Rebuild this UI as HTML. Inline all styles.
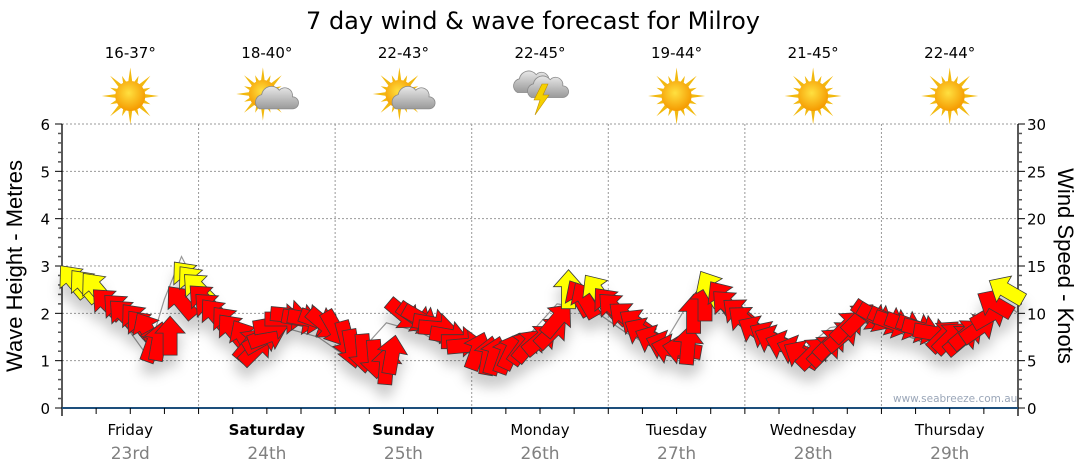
<!DOCTYPE html>
<html><head><meta charset="utf-8"><style>
html,body{margin:0;padding:0;background:#fff;}
svg{display:block;}
text{font-family:"DejaVu Sans","Liberation Sans",sans-serif;}
</style></head><body>
<svg id="chart" width="1080" height="475" viewBox="0 0 1080 475">
<defs>
<radialGradient id="sunG" cx="45%" cy="40%" r="60%"><stop offset="0" stop-color="#ffe040"/><stop offset="1" stop-color="#f59a00"/></radialGradient>
<linearGradient id="cloudG" x1="0" y1="0" x2="0" y2="1"><stop offset="0" stop-color="#e8e8e8"/><stop offset="1" stop-color="#9a9a9a"/></linearGradient>
<filter id="shadow" x="-20%" y="-20%" width="140%" height="160%"><feDropShadow dx="0" dy="12" stdDeviation="6" flood-color="#000" flood-opacity="0.2"/></filter>
</defs>
<text x="533" y="29" text-anchor="middle" font-size="24" fill="#000">7 day wind &amp; wave forecast for Milroy</text>
<g id="header"></g>
<g id="grid"></g>
<g id="axes"></g>
<text x="893" y="402" font-size="10.5" fill="#9aa6b8" font-family="Liberation Sans, sans-serif">www.seabreeze.com.au</text>
<text transform="translate(22,266) rotate(-90)" text-anchor="middle" font-size="22" style="font-family:'Liberation Sans',sans-serif">Wave Height - Metres</text>
<text transform="translate(1058,266) rotate(90)" text-anchor="middle" font-size="22" style="font-family:'Liberation Sans',sans-serif">Wind Speed - Knots</text>
<g id="series"></g>
</svg>
<script>
const days = ["Friday","Saturday","Sunday","Monday","Tuesday","Wednesday","Thursday"];
const dates = ["23rd","24th","25th","26th","27th","28th","29th"];
const boldDays = [false,true,true,false,false,false,false];
const temps = ["16-37°","18-40°","22-43°","22-45°","19-44°","21-45°","22-44°"];
const icons = ["sun","suncloud","suncloud","storm","sun","sun","sun"];
const waveTicks = [0,1,2,3,4,5,6];
const windTicks = [0,5,10,15,20,25,30];
const windHours = [2,4,6,8,10,11,13,14,15,16,17,19,21,22,23,24,25,26,27,29,30,32,33,34,35,36,37,39,40,42,43,45,46,48,50,51,53,55,57,58,60,62,63,65,66,68,70,71,73,75,76,78,79,81,82,84,86,87,89,91,92,94,96,97,99,101,102,104,106,107,109,110,111,113,114,116,117,119,120,122,124,125,127,129,130,132,134,135,137,138,140,142,143,145,146,148,150,151,153,155,156,158,159,161,163,164,166];
const windSpeeds = [13.4,12.9,12.6,11.0,10.4,9.8,9.3,8.6,8.2,6.8,7.0,7.6,11.2,13.8,13.3,12.6,11.4,10.5,9.8,9.0,8.2,7.4,6.7,6.2,7.2,7.6,8.8,9.4,9.8,9.4,9.4,9.2,8.9,8.4,7.2,6.3,5.8,5.2,4.5,5.6,9.9,9.6,9.4,8.9,8.4,7.6,7.0,6.6,6.0,5.5,5.5,5.6,6.0,6.4,6.6,7.2,8.0,9.3,12.5,11.6,11.4,12.3,11.0,10.5,9.6,8.9,8.0,7.2,6.6,6.2,6.2,6.6,9.9,11.2,12.6,11.6,10.8,10.0,9.2,8.2,7.6,7.2,6.6,6.1,5.6,5.8,6.1,6.8,7.6,8.6,9.4,9.8,9.6,9.3,9.0,8.8,8.5,8.3,7.9,7.6,7.4,7.2,7.8,8.4,9.8,11.0,12.4,12.4,11.0];
const windDirs = [320,320,320,315,315,315,320,320,330,20,10,0,320,320,320,315,315,315,320,320,320,330,40,45,60,70,80,90,95,100,100,110,130,150,165,170,175,175,5,10,130,125,120,100,95,100,90,85,20,10,15,20,25,35,40,50,45,40,0,330,330,325,320,315,310,305,300,295,290,285,280,5,0,0,330,325,315,310,310,300,300,295,290,290,300,45,45,45,50,45,45,125,120,115,110,110,110,105,100,45,45,50,50,55,60,300,300];
const waveHours = [0,3,9,15,18,21,27,33,39,45,51,57,63,69,75,81,87,93,99,105,111,117,123,129,135,141,147,153,159,165,168];
const waveHeights = [2.95,2.6,2.1,1.1,2.3,3.2,1.8,1.3,1.7,1.5,1.0,1.8,1.6,1.2,1.1,1.4,2.2,2.1,1.6,1.2,2.4,2.0,1.5,1.1,1.7,1.8,1.6,1.3,1.4,2.3,2.0];
const speedColorLimit = 12.2;

const X0=62, X1=1018, Y0=408, Y6=124, HOURS=168;
const xScale = h => X0 + h*(X1-X0)/HOURS;
const yWave = m => Y0 - m*(Y0-Y6)/6;
const yWind = k => Y0 - k*(Y0-Y6)/30;
const NS="http://www.w3.org/2000/svg";
function mk(tag, attrs, parent){const e=document.createElementNS(NS,tag);for(const k in attrs)e.setAttribute(k,attrs[k]);parent.appendChild(e);return e;}

const grid=document.getElementById('grid'), axes=document.getElementById('axes'), header=document.getElementById('header'), series=document.getElementById('series');

waveTicks.forEach(v=>{ if(v===0) return;
  const l=mk('line',{x1:X0,x2:X1,y1:yWave(v),y2:yWave(v),stroke:'#999','stroke-width':1,'stroke-dasharray':'2,2'},grid);
   
});
for(let d=1; d<7; d++){
  const x=xScale(d*24);
  const l=mk('line',{x1:x,x2:x,y1:Y6,y2:Y0,stroke:'#999','stroke-width':1,'stroke-dasharray':'2,2'},grid);
   
}
let a=mk('line',{x1:X0,x2:X0,y1:Y6,y2:Y0+8,stroke:'#000','stroke-width':1.3},axes);
 
a=mk('line',{x1:X1,x2:X1,y1:Y6,y2:Y0+8,stroke:'#000','stroke-width':1.3},axes);
 
a=mk('line',{x1:X0,x2:X1,y1:Y0,y2:Y0,stroke:'#1d4f7c','stroke-width':2},axes);
 
for(let i=0;i<=30;i++){ const y=yWave(i*0.2); const maj=i%5===0;
  mk('line',{x1:X0-(maj?7:4),x2:X0,y1:y,y2:y,stroke:maj?'#000':'#555','stroke-width':maj?1:1.5},axes);
  const y2=yWind(i); mk('line',{x1:X1,x2:X1+(maj?7:4),y1:y2,y2:y2,stroke:maj?'#000':'#555','stroke-width':maj?1:1.5},axes);
}
waveTicks.forEach(v=>{ const t=mk('text',{x:50,y:yWave(v)+6,'text-anchor':'end','font-size':15,fill:'#000'},axes); t.textContent=v;
   });
windTicks.forEach(v=>{ const t=mk('text',{x:1027,y:yWind(v)+6,'font-size':15,fill:'#000'},axes); t.textContent=v;
   });
for(let h=6; h<HOURS; h+=6){ const x=xScale(h); mk('line',{x1:x,x2:x,y1:Y0,y2:Y0+6,stroke:'#000','stroke-width':1},axes);}

function sun(g,cx,cy,r){
  let pts=[]; for(let i=0;i<32;i++){const ang=i*Math.PI/16; const rr=i%2?r*0.8:(i%4===0?r*1.9:r*1.45); pts.push((cx+rr*Math.sin(ang)).toFixed(1)+','+(cy-rr*Math.cos(ang)).toFixed(1));}
  mk('polygon',{points:pts.join(' '),fill:'#f2b90f'},g);
  mk('circle',{cx:cx,cy:cy,r:r,fill:'url(#sunG)'},g);
}
function cloud(g,cx,cy,s){
  const p=`M${cx-14*s},${cy+9*s} a${7*s},${7*s} 0 0 1 ${2*s},${-13*s} a${9*s},${9*s} 0 0 1 ${16*s},${-4*s} a${7*s},${7*s} 0 0 1 ${12*s},${6*s} a${5*s},${5*s} 0 0 1 ${0},${11*s} Z`;
  mk('path',{d:p,fill:'url(#cloudG)',stroke:'#8a8a8a','stroke-width':0.8},g);
}
days.forEach((d,i)=>{
  const cx=xScale(i*24+12);
  const g=mk('g',{},header);  
  const t=mk('text',{x:cx,y:58,'text-anchor':'middle','font-size':15,fill:'#000'},g); t.textContent=temps[i];
   
  const ig=mk('g',{},g);  
  if(icons[i]==='sun'){ sun(ig,cx,96,15); }
  else if(icons[i]==='suncloud'){ sun(ig,cx-4,94,14); cloud(ig,cx+8,99,1.1); }
  else { cloud(ig,cx-8,83,1.05); cloud(ig,cx+6,88,1.05);
    mk('polygon',{points:`${cx+2},${84} ${cx-6},${100} ${cx},${100} ${cx-5},${115} ${cx+9},${95} ${cx+3},${95} ${cx+8},${84}`,fill:'#f5d000',stroke:'#c09000','stroke-width':0.6},ig); }
  const dl=mk('text',{x:cx,y:435,'text-anchor':'middle','font-size':15,fill:'#000','font-weight':boldDays[i]?'bold':'normal'},g); dl.textContent=d;
   
  const dt=mk('text',{x:cx,y:459,'text-anchor':'middle','font-size':17,fill:'#808080'},g); dt.textContent=dates[i];
   
});

const wl=mk('polyline',{points:waveHours.map((h,i)=>xScale(h)+','+yWave(waveHeights[i])).join(' '),fill:'none',stroke:'#999','stroke-width':1.2},series);
 
const ag=mk('g',{filter:'url(#shadow)'},series);
 
windHours.forEach((h,i)=>{
  const x=xScale(h), y=yWind(windSpeeds[i]);
  const p=mk('path',{d:'M0,-20 L15,-3 L7,-3 L7,19 L-7,19 L-7,-3 L-15,-3 Z',transform:`translate(${x.toFixed(1)},${y.toFixed(1)}) rotate(${windDirs[i]})`,fill:windSpeeds[i]>=speedColorLimit?'#ffff00':'#ff0000',stroke:'#3a3a3a','stroke-width':0.8},ag);
  
  
});
</script>
</body></html>
